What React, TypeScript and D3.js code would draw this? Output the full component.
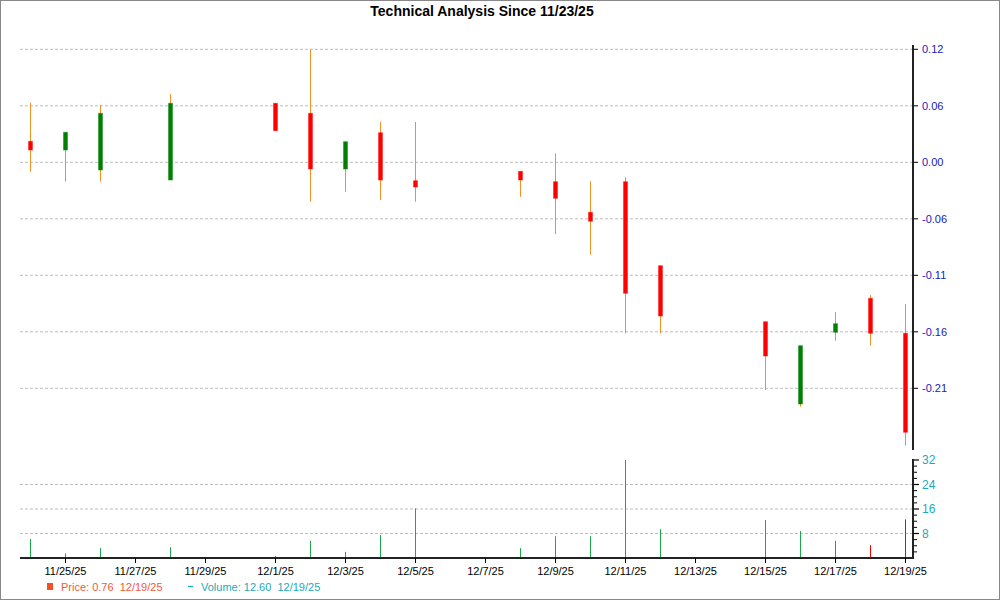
import React from "react"
import * as d3 from "d3"

// trading days and OHLC (relative price units)
const dates = [
  "2025-11-24", "2025-11-25", "2025-11-26", "2025-11-28", "2025-12-01",
  "2025-12-02", "2025-12-03", "2025-12-04", "2025-12-05", "2025-12-08",
  "2025-12-09", "2025-12-10", "2025-12-11", "2025-12-12", "2025-12-15",
  "2025-12-16", "2025-12-17", "2025-12-18", "2025-12-19",
]
const opens = [0.021, 0.0123, -0.0077, -0.0177, 0.059, 0.049, -0.0067, 0.0296, -0.0184, -0.009, -0.0194, -0.05, -0.0194, -0.1034, -0.1594, -0.2417, -0.17, -0.136, -0.171]
const closes = [0.0123, 0.03, 0.049, 0.059, 0.0316, -0.0067, 0.0206, -0.0177, -0.0247, -0.0177, -0.036, -0.059, -0.131, -0.1537, -0.1937, -0.1834, -0.1614, -0.171, -0.27]
const highs = [0.0596, 0.03, 0.0573, 0.0683, 0.059, 0.113, 0.0206, 0.0403, 0.0403, -0.009, 0.009, -0.019, -0.015, -0.1034, -0.1594, -0.1834, -0.1497, -0.1327, -0.1417]
const lows = [-0.0094, -0.0194, -0.0194, -0.0177, 0.0316, -0.0394, -0.0294, -0.0377, -0.0394, -0.0344, -0.0717, -0.0924, -0.171, -0.171, -0.2277, -0.2444, -0.1784, -0.1834, -0.2834]
const volumes = [6.2, 1.5, 3.2, 3.5, 0.65, 5.6, 2.0, 7.5, 16.2, 3.2, 7.1, 7.1, 32, 9.4, 12.4, 8.8, 5.6, 4.2, 12.6]
const volumeUp = [1, 1, 1, 1, 1, 1, 1, 1, 1, 1, 1, 1, 1, 1, 1, 1, 1, 0, 0]

const priceTicks = [0.113, 0.0565, 0, -0.0565, -0.113, -0.1695, -0.226]
const priceTickLabels = ["0.12", "0.06", "0.00", "-0.06", "-0.11", "-0.16", "-0.21"]
const volumeTicks = [8, 16, 24, 32]
const dateTicks = [
  "2025-11-25", "2025-11-27", "2025-11-29", "2025-12-01", "2025-12-03",
  "2025-12-05", "2025-12-07", "2025-12-09", "2025-12-11", "2025-12-13",
  "2025-12-15", "2025-12-17", "2025-12-19",
]

const FONT = "'Liberation Sans', Arial, sans-serif"

export default function App() {
  const parse = d3.utcParse("%Y-%m-%d")
  const fmt = d3.utcFormat("%-m/%-d/%y")
  const left = 20
  const axisX = 913

  const x = d3.scaleUtc()
    .domain([parse("2025-11-24")!, parse("2025-12-19")!])
    .range([30, 905])
  const y = d3.scaleLinear().domain([0.113, -0.226]).range([49.3, 388.3])
  const yv = d3.scaleLinear().domain([0, 32]).range([558, 460])

  const minorV = d3.range(2, 33, 2).filter((v) => v % 8 !== 0)

  return (
    <svg width={1000} height={600} style={{ position: "fixed", left: 0, top: 0, background: "#fff" }} fontFamily={FONT}>
      <rect x={0.5} y={0.5} width={999} height={599} fill="#fff" stroke="#888" />
      <text x={482} y={16} textAnchor="middle" fontSize={14} fontWeight="bold" fill="#000">
        Technical Analysis Since 11/23/25
      </text>

      {/* price grid */}
      {priceTicks.map((t, i) => (
        <g key={"pg" + i}>
          <line x1={left} x2={axisX} y1={y(t)} y2={y(t)} stroke="#bdbdbd" strokeDasharray="3,2" />
          <line x1={axisX} x2={axisX + 5} y1={y(t)} y2={y(t)} stroke="#000" />
          <text x={axisX + 9} y={y(t)} dy="0.35em" fontSize={11} fill="#2020b8">{priceTickLabels[i]}</text>
        </g>
      ))}
      <line x1={axisX} x2={axisX} y1={45} y2={450} stroke="#222" strokeWidth={2} />

      {/* candles */}
      {dates.map((d, i) => {
        const cx = Math.round(x(parse(d)!)) + 0.5
        const up = closes[i] >= opens[i]
        const top = y(Math.max(opens[i], closes[i]))
        const bot = y(Math.min(opens[i], closes[i]))
        return (
          <g key={"c" + i}>
            <line x1={cx} x2={cx} y1={y(highs[i])} y2={y(lows[i])} stroke="#f29224" strokeWidth={1} />
            <rect
              x={cx - 2}
              y={top}
              width={4}
              height={Math.max(bot - top, 1)}
              fill={up ? "#008000" : "#ff0000"}
              stroke={up ? "rgba(0,128,0,0.4)" : "rgba(255,0,0,0.4)"}
              strokeWidth={1}
            />
          </g>
        )
      })}

      {/* volume grid & axis */}
      {volumeTicks.filter((t) => t < 32).map((t) => (
        <line key={"vg" + t} x1={left} x2={axisX} y1={yv(t)} y2={yv(t)} stroke="#bdbdbd" strokeDasharray="3,2" />
      ))}
      {volumeTicks.map((t) => (
        <g key={"vt" + t}>
          <line x1={axisX} x2={axisX + 6} y1={yv(t)} y2={yv(t)} stroke="#000" strokeWidth={1.2} />
          <text x={axisX + 9} y={yv(t)} dy="0.35em" fontSize={12} fill="#1aa9bb">{t}</text>
        </g>
      ))}
      {minorV.map((t) => (
        <line key={"vm" + t} x1={axisX} x2={axisX + 4} y1={yv(t)} y2={yv(t)} stroke="#000" />
      ))}

      {dates.map((d, i) => {
        const cx = Math.round(x(parse(d)!)) + 0.5
        return (
          <line key={"v" + i} x1={cx} x2={cx} y1={yv(0)} y2={yv(volumes[i])}
            stroke={volumeUp[i] ? "#1aa84a" : "#ff0000"} strokeWidth={1} />
        )
      })}
      <line x1={left} x2={axisX + 1} y1={558} y2={558} stroke="#222" strokeWidth={2} />
      <line x1={axisX} x2={axisX} y1={459} y2={559} stroke="#222" strokeWidth={2} />

      {/* date axis */}
      {dateTicks.map((d) => {
        const tx = Math.round(x(parse(d)!)) + 0.5
        return (
          <g key={"dt" + d}>
            <line x1={tx} x2={tx} y1={558} y2={563} stroke="#000" />
            <text x={tx} y={575} textAnchor="middle" fontSize={11} fill="#000">{fmt(parse(d)!)}</text>
          </g>
        )
      })}

      {/* legend */}
      <rect x={47} y={583} width={6} height={7} fill="#f05022" />
      <text x={61} y={591} fontSize={11} fill="#f05a3a" style={{ whiteSpace: "pre" }}>Price: 0.76  12/19/25</text>
      <line x1={188} x2={193} y1={586.5} y2={586.5} stroke="#1aa9bb" strokeWidth={1.2} />
      <text x={201} y={591} fontSize={11} fill="#1aa9bb" style={{ whiteSpace: "pre" }}>Volume: 12.60  12/19/25</text>
    </svg>
  )
}
